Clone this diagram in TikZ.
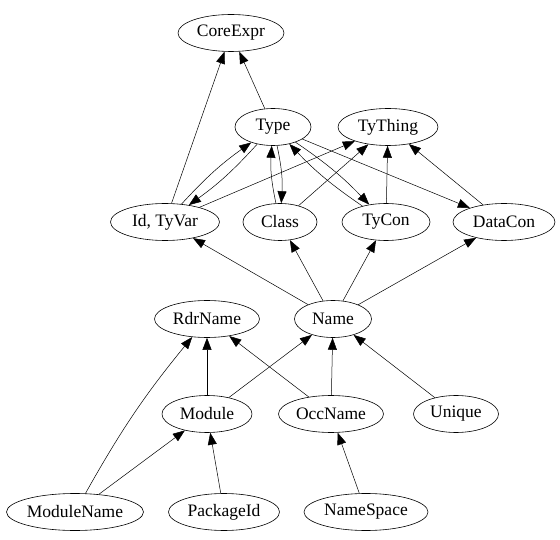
\documentclass[tikz,border=0pt]{standalone}
\usepackage{fontspec}
\setmainfont{Liberation Serif}
\usepackage{tikz}
\usetikzlibrary{shapes.geometric,arrows.meta}

\begin{document}
\begin{tikzpicture}[x=1pt,y=1pt,
    typ/.style={draw=black, ellipse, line width=.6pt, inner sep=0pt, minimum height=37pt, font=\fontsize{17.5}{19}\selectfont},
    dep/.style={draw=black, line width=.5pt, -{Triangle[length=12pt,width=9pt]}}]
    \useasboundingbox (0,0) rectangle (560,539);
    \node[typ, minimum width=106pt] (coreexpr) at (231,506) {CoreExpr};
    \node[typ, minimum width=76pt] (type) at (273,412) {Type};
    \node[typ, minimum width=100pt] (tything) at (388,412) {TyThing};
    \node[typ, minimum width=109pt] (idtyvar) at (165,317) {Id, TyVar};
    \node[typ, minimum width=74pt] (class) at (280,317) {Class};
    \node[typ, minimum width=88pt] (tycon) at (386,317) {TyCon};
    \node[typ, minimum width=102pt] (datacon) at (504,317) {DataCon};
    \node[typ, minimum width=105pt] (rdrname) at (207,220) {RdrName};
    \node[typ, minimum width=77pt] (name) at (333,220) {Name};
    \node[typ, minimum width=90pt] (module) at (207,125) {Module};
    \node[typ, minimum width=105pt] (occname) at (331,125) {OccName};
    \node[typ, minimum width=85pt] (unique) at (456,125) {Unique};
    \node[typ, minimum width=137pt] (modulename) at (75,27) {ModuleName};
    \node[typ, minimum width=111pt] (packageid) at (224,27) {PackageId};
    \node[typ, minimum width=124pt] (namespace) at (366,27) {NameSpace};
    \draw[dep] (idtyvar) -- (coreexpr);
    \draw[dep] (type) -- (coreexpr);
    \draw[dep] (idtyvar) to[bend left=6] (type);
    \draw[dep] (type) to[bend left=6] (idtyvar);
    \draw[dep] (idtyvar) -- (tything);
    \draw[dep] (class) to[bend left=8] (type);
    \draw[dep] (type) to[bend left=8] (class);
    \draw[dep] (class) -- (tything);
    \draw[dep] (tycon) to[bend left=6] (type);
    \draw[dep] (type) to[bend left=6] (tycon);
    \draw[dep] (tycon) -- (tything);
    \draw[dep] (type) -- (datacon);
    \draw[dep] (datacon) -- (tything);
    \draw[dep] (name) -- (idtyvar);
    \draw[dep] (name) -- (class);
    \draw[dep] (name) -- (tycon);
    \draw[dep] (name) -- (datacon);
    \draw[dep] (module) -- (rdrname);
    \draw[dep] (module) -- (name);
    \draw[dep] (occname) -- (rdrname);
    \draw[dep] (occname) -- (name);
    \draw[dep] (unique) -- (name);
    \draw[dep] (modulename) to[bend left=5] (rdrname);
    \draw[dep] (modulename) -- (module);
    \draw[dep] (packageid) -- (module);
    \draw[dep] (namespace) -- (occname);
\end{tikzpicture}
\end{document}
